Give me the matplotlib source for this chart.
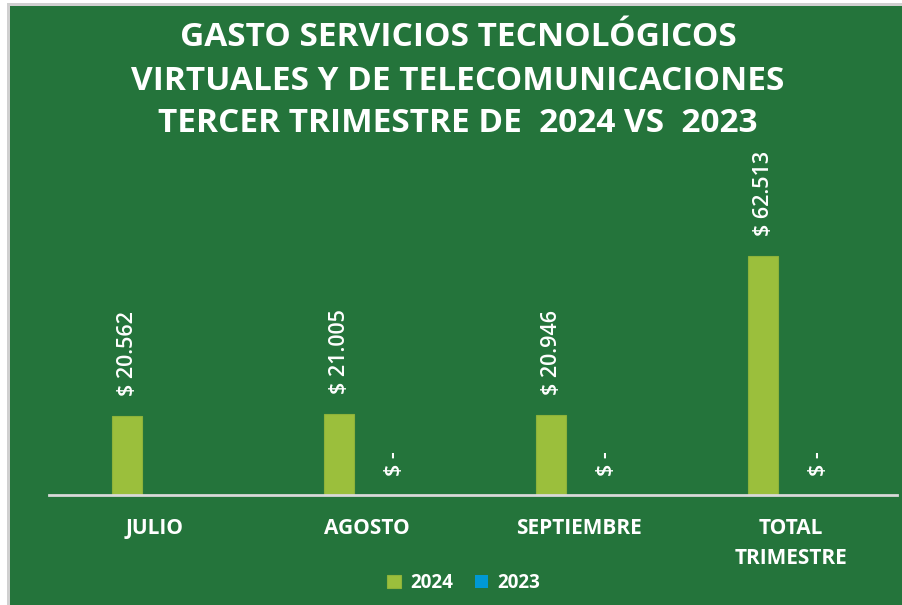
import matplotlib.pyplot as plt
from matplotlib.patches import Rectangle
import numpy as np

categorias = ["JULIO", "AGOSTO", "SEPTIEMBRE", "TOTAL\nTRIMESTRE"]
gasto_2024 = [20562, 21005, 20946, 62513]
gasto_2023 = [np.nan, 0, 0, 0]
series = ["2024", "2023"]

titulo = "GASTO SERVICIOS TECNOLÓGICOS\nVIRTUALES Y DE TELECOMUNICACIONES\nTERCER TRIMESTRE DE  2024 VS  2023"

VERDE_FONDO = "#24743B"
VERDE_BARRA = "#9BBF3C"
AZUL = "#0099D4"
W, H = 902, 605


def etiqueta(v):
    if v == 0:
        return "$ -"
    return "$ " + f"{v:,.0f}".replace(",", ".")


fig = plt.figure(figsize=(W / 100, H / 100), dpi=100)
fig.patch.set_facecolor("white")
# marco gris y fondo verde
fig.add_artist(Rectangle((7 / W, 0), 1 - 7 / W, (H - 3) / H, transform=fig.transFigure,
                         facecolor="#D0D0D0", edgecolor="none", zorder=0))
fig.add_artist(Rectangle((9.5 / W, 0), 1 - 9.5 / W, (H - 5.5) / H, transform=fig.transFigure,
                         facecolor=VERDE_FONDO, edgecolor="none", zorder=0))

ax = fig.add_axes([49 / W, 110.5 / H, 848 / W, 267 / H])
ax.set_facecolor("none")

x = np.arange(len(categorias))
ancho = 0.137
desp = 0.132
b1 = ax.bar(x - desp, gasto_2024, ancho, color=VERDE_BARRA, edgecolor="#8DB23A", linewidth=0.8, label=series[0])
b2 = ax.bar(x + desp, np.nan_to_num(gasto_2023), ancho, color=AZUL, label=series[1])

estilo = dict(rotation=90, ha="center", va="bottom", color="white", fontsize=15.5,
              fontweight="semibold", family="Open Sans", annotation_clip=False)
for xi, v in zip(x - desp, gasto_2024):
    ax.annotate(etiqueta(v), (xi, v), xytext=(0, 20), textcoords="offset pixels", **estilo)
for xi, v in zip(x + desp, gasto_2023):
    if np.isnan(v):
        continue
    ax.annotate(etiqueta(v), (xi, v), xytext=(0, 19), textcoords="offset pixels", **estilo)

ax.set_xlim(-0.5, 3.5)
ax.set_ylim(0, 70000)
for s in ["top", "left", "right"]:
    ax.spines[s].set_visible(False)
ax.spines["bottom"].set_color("#D9D9D9")
ax.spines["bottom"].set_linewidth(2)
ax.set_yticks([])
ax.set_xticks(x)
ax.set_xticklabels(categorias, color="white", fontsize=15, fontweight="bold",
                   family="Open Sans", linespacing=1.58)
ax.tick_params(axis="x", length=0, pad=17)

fig.text(458 / W, (H - 81) / H, titulo, ha="center", va="center", color="white",
         fontsize=24, fontweight="bold", family="Open Sans", linespacing=1.4)

leg = fig.legend(handles=[b1, b2], labels=series, loc="center", bbox_to_anchor=(464 / W, (H - 583) / H),
                 ncol=2, frameon=False, handlelength=0.7, handleheight=0.7, handletextpad=0.5,
                 columnspacing=1.2, prop={"family": "Open Sans", "weight": "bold", "size": 13.5})
for t in leg.get_texts():
    t.set_color("white")

fig.savefig("out.png", dpi=100)
